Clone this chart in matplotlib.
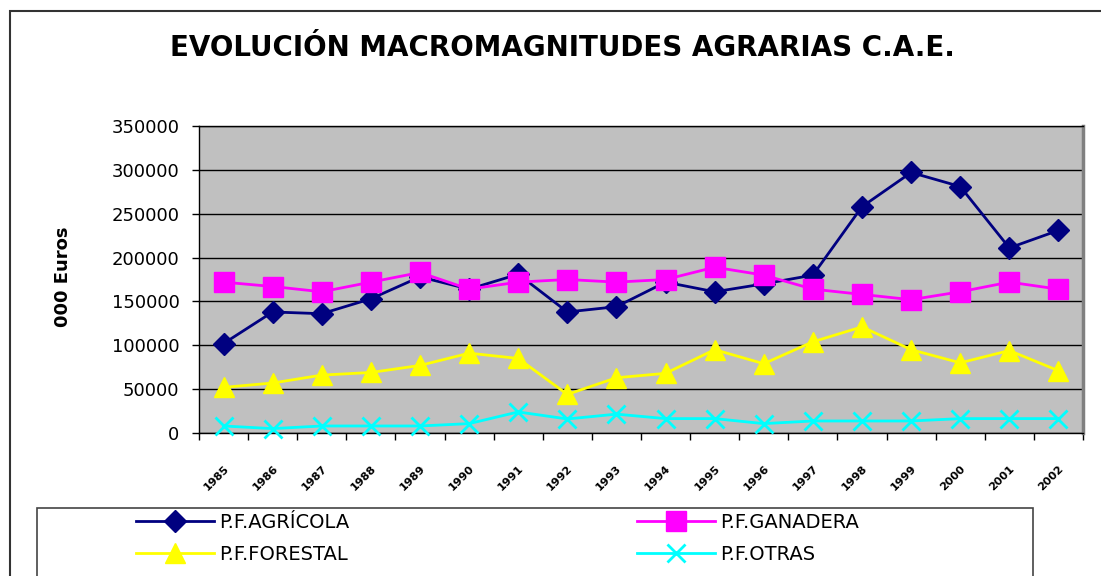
import matplotlib
matplotlib.use("Agg")
import matplotlib.pyplot as plt
from matplotlib.patches import Rectangle
from matplotlib.transforms import ScaledTranslation

# donnees (milliers d'euros)
anios = ["1985", "1986", "1987", "1988", "1989", "1990", "1991", "1992", "1993",
         "1994", "1995", "1996", "1997", "1998", "1999", "2000", "2001", "2002"]
agricola = [102000, 138000, 136000, 153000, 178000, 164000, 181000, 138000, 144000,
            172000, 161000, 170000, 180000, 258000, 297000, 281000, 211000, 231000]
ganadera = [172000, 167000, 161000, 172000, 183000, 164000, 172000, 175000, 172000,
            175000, 189000, 180000, 164000, 158000, 152000, 161000, 172000, 164000]
forestal = [52000, 57000, 66000, 69000, 77000, 91000, 85000, 44000, 63000,
            68000, 95000, 79000, 104000, 121000, 95000, 80000, 94000, 71000]
otras = [8000, 5000, 8000, 8000, 8000, 10700, 24000, 16000, 21500,
         16400, 16400, 10700, 13700, 13700, 13700, 16400, 16400, 16400]

W, H = 1101, 576
plt.rcParams['font.family'] = ['DejaVu Sans']
fig = plt.figure(figsize=(W / 100, H / 100), dpi=100)

# cadre exterieur (coupe a droite et en bas)
fig.patches.append(Rectangle((10 / W, -0.1), 1.2, 1 - 11 / H + 0.1, transform=fig.transFigure,
                             fill=False, edgecolor='#333333', linewidth=1.5))
# cadre de la legende
fig.patches.append(Rectangle((37 / W, -0.1), (1033 - 37) / W, 1 - 508 / H + 0.1,
                             transform=fig.transFigure, fill=False,
                             edgecolor='#444444', linewidth=1.2))

ax = fig.add_axes([199 / W, 1 - 433 / H, (1083 - 199) / W, (433 - 126) / H])
ax.set_facecolor('#C0C0C0')

x = list(range(len(anios)))
l1, = ax.plot(x, agricola, color='#000080', lw=2, marker='D', ms=11, clip_on=False, zorder=3)
l2, = ax.plot(x, ganadera, color='#FF00FF', lw=2, marker='s', ms=14, clip_on=False, zorder=3)
l3, = ax.plot(x, forestal, color='#FFFF00', lw=2, marker='^', ms=15, clip_on=False, zorder=3)
l4, = ax.plot(x, otras, color='#00FFFF', lw=2, marker='x', ms=13, mew=2, clip_on=False, zorder=3)

ax.set_ylim(0, 350000)
ax.set_xlim(-0.5, len(anios) - 0.5)
ax.set_yticks(range(0, 350001, 50000))
ax.yaxis.grid(True, color='black', lw=1)
ax.set_axisbelow(True)
ax.tick_params(axis='y', direction='out', length=5, width=1, labelsize=13, pad=9)

ax.set_xticks(x)
ax.set_xticklabels(anios, rotation=45, ha='right', va='top', rotation_mode='anchor',
                   fontsize=8, fontweight='bold')
off = ScaledTranslation(-16 / 100, 0, fig.dpi_scale_trans)
for lab in ax.get_xticklabels():
    lab.set_transform(lab.get_transform() + off)
ax.set_xticks([i + 0.5 for i in x[:-1]] + [-0.5, len(anios) - 0.5], minor=True)
ax.tick_params(axis='x', which='major', length=0, pad=22)
ax.tick_params(axis='x', which='minor', direction='out', length=5, width=1)

for s in ['left', 'bottom', 'top']:
    ax.spines[s].set_color('black')
    ax.spines[s].set_linewidth(1)
ax.spines['right'].set_color('#808080')
ax.spines['right'].set_linewidth(2.5)

fig.text(63 / W, 1 - 277 / H, "000 Euros", rotation=90, ha='center', va='center',
         fontsize=13, fontweight='bold')
fig.text(562 / W, 1 - 48 / H, "EVOLUCIÓN MACROMAGNITUDES AGRARIAS C.A.E.",
         ha='center', va='center', fontsize=20, fontweight='bold')

# deux legendes, une par colonne
leg_kw = dict(loc='upper left', frameon=False, fontsize=14, handlelength=4.0,
              handletextpad=0.3, labelspacing=0.65, borderaxespad=0, borderpad=0)
fig.legend([l1, l3], ["P.F.AGRÍCOLA", "P.F.FORESTAL"],
           bbox_to_anchor=(136 / W, 1 - 513 / H), **leg_kw)
fig.legend([l2, l4], ["P.F.GANADERA", "P.F.OTRAS"],
           bbox_to_anchor=(637 / W, 1 - 513 / H), **leg_kw)

fig.savefig("out.png", dpi=100)
